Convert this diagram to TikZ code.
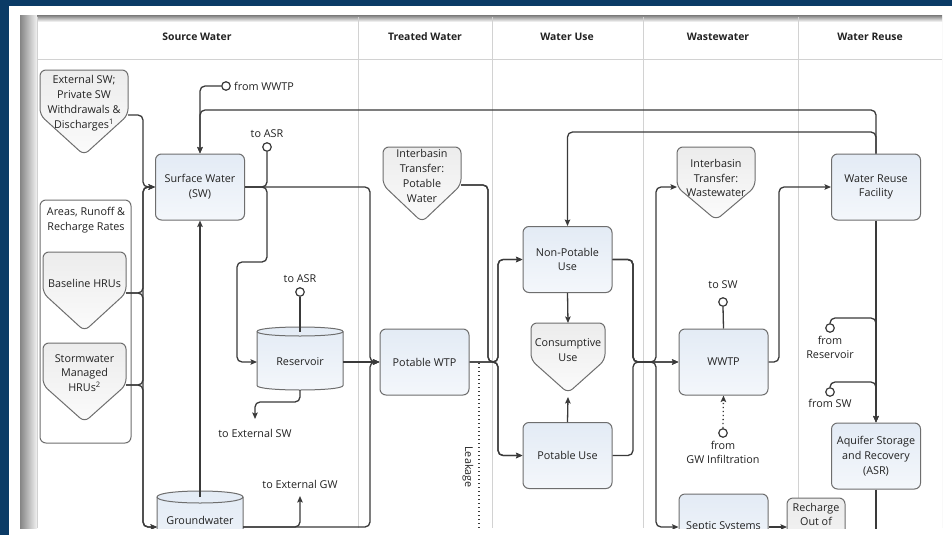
\documentclass[tikz,border=0pt]{standalone}
\usepackage{fontspec}
\setmainfont{Open Sans}
\usetikzlibrary{arrows.meta}
\definecolor{navy}{HTML}{0B3B66}
\definecolor{lineC}{HTML}{3A3A3A}
\definecolor{edgeC}{HTML}{6E6E6E}
\definecolor{boxA}{HTML}{E3EBF5}
\definecolor{boxB}{HTML}{F4F7FB}
\definecolor{pentA}{HTML}{ECECEC}
\definecolor{pentB}{HTML}{FBFBFB}
\definecolor{gridC}{HTML}{D2D2D2}
\definecolor{textC}{HTML}{222222}
\newcommand\lbf{\fontsize{10.8}{14.8}\selectfont}
\newcommand\hdf{\fontsize{10.4}{13}\selectfont\bfseries}
% pentagon (off-page shape): name, cx, top, half width, side bottom, tip
\newcommand\pent[6]{%
  \path[pentshape] (#2,#3) -- ({#2+#4},#3) -- ({#2+#4},#5) -- (#2,#6) -- ({#2-#4},#5) -- ({#2-#4},#3) -- cycle;
  \coordinate (#1-l) at ({#2-#4},#5);
  \coordinate (#1-r) at ({#2+#4},#5);
  \coordinate (#1-t) at (#2,#3);
  \coordinate (#1-b) at (#2,#6);}
% cylinder: name, cx, top, half width, bottom, ry
\newcommand\cylshape[6]{%
  \path[cylfill] ({#2-#4},{#3+#6}) -- ({#2-#4},{#5-#6})
     .. controls ({#2-#4},{#5+#6/3}) and ({#2+#4},{#5+#6/3}) .. ({#2+#4},{#5-#6})
     -- ({#2+#4},{#3+#6})
     .. controls ({#2+#4},{#3-#6/3}) and ({#2-#4},{#3-#6/3}) .. ({#2-#4},{#3+#6}) -- cycle;
  \draw[cylline] ({#2-#4},{#3+#6}) .. controls ({#2-#4},{#3+7*#6/3}) and ({#2+#4},{#3+7*#6/3}) .. ({#2+#4},{#3+#6});
  \coordinate (#1-top) at (#2,{#3+#6});
  \coordinate (#1-bot) at (#2,#5);}
\begin{document}
\begin{tikzpicture}[x=1pt,y=-1pt,
  box/.style={draw=edgeC, line width=1pt, rounded corners=6pt, top color=boxA, bottom color=boxB,
    minimum width=89pt, minimum height=66pt, align=center, font=\lbf, text=textC, inner sep=0pt},
  pentshape/.style={draw=edgeC, line width=1pt, rounded corners=6pt, top color=pentA, bottom color=pentB},
  cylfill/.style={draw=edgeC, line width=1pt, top color=boxA, bottom color=boxB},
  cylline/.style={draw=edgeC, line width=1pt},
  lbl/.style={font=\lbf, text=textC, align=center, inner sep=0pt},
  hdr/.style={font=\hdf, text=textC, inner sep=0pt},
  port/.style={circle, draw=lineC, fill=white, line width=1.2pt, minimum size=8.5pt, inner sep=0pt},
  flow/.style={draw=lineC, line width=1.3pt, rounded corners=5pt},
  tip/.style={-{Stealth[length=6.5pt,width=5.5pt,inset=1.2pt]}},
  leak/.style={draw=lineC, line width=1.3pt, dash pattern=on 1.3pt off 2.7pt},
]
\useasboundingbox (0,0) rectangle (952,535);
\fill[white] (0,0) rectangle (952,535);
\fill[navy] (0,0) rectangle (952,6);
\fill[navy] (0,0) rectangle (9,535);

\begin{scope}
\clip (20,16) rectangle (942,528);
% table
\fill[white] (37,17) rectangle (942,528);
\shade[left color=black!48, right color=black!5] (20,16) rectangle (37,528);
\shade[top color=black!45, bottom color=white] (37,16) rectangle (942,22);
\draw[gridC, line width=0.8pt] (37,59) -- (942,59);
\foreach \cx in {37,358,492,643,798,942} \draw[gridC, line width=0.8pt] (\cx,17) -- (\cx,528);
\node[hdr] (h1) at (197,37) {Source Water};
\node[hdr] (h2) at (425,37) {Treated Water};
\node[hdr] (h3) at (567,37) {Water Use};
\node[hdr] (h4) at (718,37) {Wastewater};
\node[hdr] (h5) at (870,37) {Water Reuse};

% container
\draw[edgeC, line width=1pt, rounded corners=6pt, fill=white] (40,200) rectangle (131,443);
\node[lbl] (areaT) at (86,220.5) {Areas, Runoff \&\\Recharge Rates};

% pentagons
\pent{ext}{84}{70}{44}{115}{155}
\node[lbl] (extT) at (84,103) {External SW;\\Private SW\\Withdrawals \&\\Discharges\textsuperscript{1}};
\pent{bas}{84.5}{252}{41.5}{293}{331}
\node[lbl] (basT) at (84.5,283) {Baseline HRUs};
\pent{stm}{84.5}{343}{41.5}{385}{422}
\node[lbl] (stmT) at (84.5,373) {Stormwater\\Managed\\HRUs\textsuperscript{2}};
\pent{ibp}{422}{147}{39}{185}{222}
\node[lbl] (ibpT) at (422,176) {Interbasin\\Transfer:\\Potable\\Water};
\pent{con}{568}{323}{37}{360}{393}
\node[lbl] (conT) at (568,350) {Consumptive\\Use};
\pent{ibw}{716}{147}{39}{187}{220}
\node[lbl] (ibwT) at (716,178) {Interbasin\\Transfer:\\Wastewater};
\pent{rch}{816}{498}{29}{570}{610}
\node[lbl] (rchT) at (816,514.5) {Recharge\\Out of};

% cylinders
\cylshape{Res}{300}{327}{43}{390}{4.5}
\node[lbl] (ResT) at (300,362) {Reservoir};
\coordinate (Res-w) at (257,362);
\coordinate (Res-e) at (343,362);
\cylshape{GW}{200}{491}{43}{580}{6}
\node[lbl] (GWT) at (200,520) {Groundwater};
\coordinate (GW-w) at (157,527);
\coordinate (GW-e) at (243,527);
\coordinate (GW-in) at (200,497);

% boxes
\node[box] (SW) at (200,187) {Surface Water\\(SW)};
\node[box] (WTP) at (424.5,362) {Potable WTP};
\node[box] (NPU) at (567.5,259.5) {Non-Potable\\Use};
\node[box] (PU) at (567.5,455.5) {Potable Use};
\node[box] (WWTP) at (723.5,362) {WWTP};
\node[box] (WR) at (876,187) {Water Reuse\\Facility};
\node[box] (ASR) at (876,456) {Aquifer Storage\\and Recovery\\(ASR)};
\node[box] (SEP) at (723.5,527) {Septic Systems};

% ports and labels
\node[port] (cWWTP) at (226,86) {};
\node[lbl, anchor=west] (lWWTP) at (234,86) {from WWTP};
\node[port] (cASR1) at (267,147) {};
\node[lbl] (lASR1) at (267,134) {to ASR};
\node[port] (cASR2) at (300,292) {};
\node[lbl] (lASR2) at (300,279) {to ASR};
\node[lbl] (lExtSW) at (255,433) {to External SW};
\coordinate (eSW) at (255,419);
\node[lbl] (lExtGW) at (300,484) {to External GW};
\coordinate (eGW) at (300,496);
\node[port] (cSW) at (723,302) {};
\node[lbl] (lSW) at (723,285) {to SW};
\node[port] (cGWI) at (723,433) {};
\node[lbl] (lGWI) at (723,452.5) {from\\GW Infiltration};
\node[port] (cRes) at (830,328) {};
\node[lbl] (lRes) at (830,347.5) {from\\Reservoir};
\node[port] (cSWb) at (830,392) {};
\node[lbl] (lSWb) at (830,403.5) {from SW};
\node[lbl, rotate=-90] (leakT) at (468,467) {Leakage};
\coordinate (leak) at (479,363);
\coordinate (leakEnd) at (479,540);
\coordinate (rch-w) at (787,527);
\coordinate (con-in) at (568,397);
\coordinate (asrEnd) at (876,540);

% connectors
\draw[flow,tip] (ext-r) -| (143,187) -- (SW.west);
\draw[flow,tip] (bas-r) -| (143,187) -- (SW.west);
\draw[flow,tip] (bas-r) -| (143,527) -- (GW-w);
\draw[flow,tip] (stm-r) -| (143,187) -- (SW.west);
\draw[flow,tip] (stm-r) -| (143,527) -- (GW-w);
\draw[flow,tip] (GW-in) -- (SW.south);
\draw[flow,tip] (cWWTP.west) -| (SW.north);
\draw[flow,tip] (WR.north) -- (876,110) -| (SW.north);
\draw[flow,tip] (WR.north) -- (876,132) -| (NPU.north);
\draw[flow,tip] (SW.east) -| (370,362) -- (WTP.west);
\draw[flow] (SW.east) -| (cASR1.south);
\draw[flow,tip] (SW.east) -- (267,187) -- (267,262) -- (237,262) -- (237,362) -- (Res-w);
\draw[flow] (cASR2.south) -- (Res-top);
\draw[flow,tip] (Res-bot) -- (300,402) -| (eSW);
\draw[flow,tip] (Res-e) -- (WTP.west);
\draw[flow,tip] (GW-e) -| (370,362) -- (WTP.west);
\draw[flow,tip] (GW-e) -| (eGW);
\draw[flow,tip] (ibp-r) -| (488,362) -- (498,362) |- (NPU.west);
\draw[flow,tip] (ibp-r) -| (488,362) -- (498,362) |- (PU.west);
\draw[flow,tip] (WTP.east) -- (498,362) |- (NPU.west);
\draw[flow,tip] (WTP.east) -- (498,362) |- (PU.west);
\draw[leak] (leak) -- (leakEnd);
\draw[flow,tip] (NPU.south) -- (con-t);
\draw[flow,tip] (PU.north) -- (con-in);
\draw[flow,tip] (NPU.east) -| (633,362) -- (WWTP.west);
\draw[flow,tip] (PU.east) -| (633,362) -- (WWTP.west);
\draw[flow,tip] (NPU.east) -| (633,362) -- (656,362) |- (ibw-l);
\draw[flow,tip] (NPU.east) -| (633,362) -- (656,362) |- (SEP.west);
\draw[flow] (cSW.south) -- (WWTP.north);
\draw[leak,tip] (cGWI.north) -- (WWTP.south);
\draw[flow,tip] (WWTP.east) -| (779,187) -- (WR.west);
\draw[flow,tip] (WR.south) -- (ASR.north);
\draw[flow,tip] (cRes.north) |- (876,318) -- (ASR.north);
\draw[flow,tip] (cSWb.north) |- (876,382) -- (ASR.north);
\draw[flow] (ASR.south) -- (asrEnd);
\draw[flow,tip] (SEP.east) -- (rch-w);
\end{scope}
\end{tikzpicture}
\end{document}
